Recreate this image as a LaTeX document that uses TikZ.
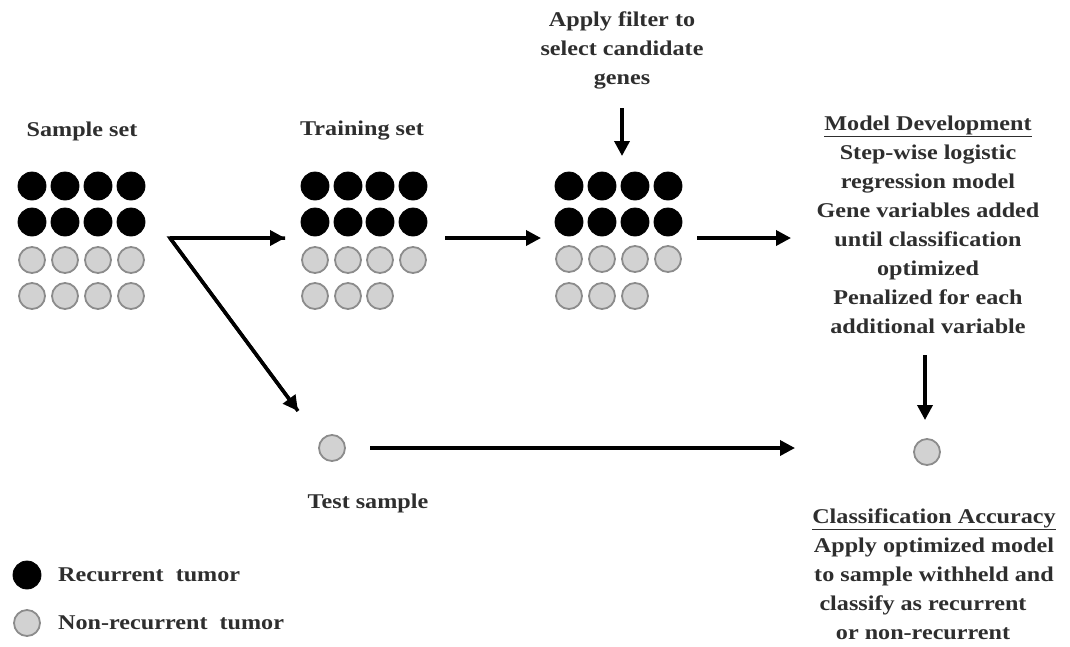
\documentclass[tikz,border=0pt]{standalone}
\usepackage{fontspec}
\setmainfont{Liberation Serif}
\newfontfamily\widefont[FakeStretch=1.15]{Liberation Serif}
\usetikzlibrary{arrows.meta}
\definecolor{txt}{HTML}{2E2E2E}
\definecolor{ringgray}{HTML}{8C8C8C}
\definecolor{fillgray}{HTML}{D2D2D2}
\tikzset{
  rec/.style={circle, fill=black, draw=black, line width=0.8pt, minimum size=28pt, inner sep=0pt},
  nonrec/.style={circle, fill=fillgray, draw=ringgray, line width=1.8pt, minimum size=26pt, inner sep=0pt},
  lbl/.style={font=\widefont\fontsize{21}{29}\selectfont\bfseries, text=txt, align=center, inner sep=0pt},
  flow/.style={line width=3.5pt, -{Triangle[length=15pt,width=15pt]}},
}
\begin{document}
\begin{tikzpicture}[x=1pt,y=-1pt]
\useasboundingbox (0,0) rectangle (1070,646);
% Sample set grid
\node[lbl] (samplelbl) at (82,131) {Sample set};
\foreach \c/\x in {1/32,2/65,3/98,4/131}{
  \node[rec] (sa1\c) at (\x,186) {};
  \node[rec] (sa2\c) at (\x,222) {};
  \node[nonrec] (sa3\c) at (\x,260) {};
  \node[nonrec] (sa4\c) at (\x,296) {};
}
% Training set grid
\node[lbl] (trainlbl) at (362,131) {Training set};
\foreach \c/\x in {1/315,2/348,3/380,4/413}{
  \node[rec] (tr1\c) at (\x,186) {};
  \node[rec] (tr2\c) at (\x,222) {};
  \node[nonrec] (tr3\c) at (\x,260) {};
}
\foreach \c/\x in {1/315,2/348,3/380}{
  \node[nonrec] (tr4\c) at (\x,296) {};
}
% Filtered grid
\node[lbl] (filterlbl) at (622,50) {Apply filter to\\select candidate\\genes};
\foreach \c/\x in {1/569,2/602,3/635,4/668}{
  \node[rec] (fi1\c) at (\x,186) {};
  \node[rec] (fi2\c) at (\x,222) {};
  \node[nonrec] (fi3\c) at (\x,259) {};
}
\foreach \c/\x in {1/569,2/602,3/635}{
  \node[nonrec] (fi4\c) at (\x,296) {};
}
% Model development
\node[lbl] (model) at (928,225) {\underline{Model Development}\\Step-wise logistic\\regression model\\Gene variables added\\until classification\\optimized\\Penalized for each\\additional variable};
% Test sample
\node[nonrec] (test) at (332,448) {};
\node[lbl] (testlbl) at (368,503) {Test sample};
% Classification
\node[nonrec] (cls) at (927,452) {};
\node[lbl] (clslbl) at (934,574) {\underline{Classification Accuracy}\\Apply optimized model\\to sample withheld and\\classify as recurrent\rule{22pt}{0pt}\\or non-recurrent\rule{22pt}{0pt}};
% Legend
\node[rec] (legrec) at (27,575) {};
\node[lbl, anchor=west] (legreclbl) at (58,575) {Recurrent\ \ tumor};
\node[nonrec] (legnon) at (27,623) {};
\node[lbl, anchor=west] (legnonlbl) at (58,623) {Non-recurrent\ \ tumor};
% connector coordinates
\coordinate (split) at (170,238);
\coordinate (trIn) at (285,238);
\coordinate (testIn) at (298,411);
\coordinate (trOut) at (445,238);
\coordinate (fiIn) at (541,238);
\coordinate (fiOut) at (697,238);
\coordinate (moIn) at (791,238);
\coordinate (filtTop) at (622,108);
\coordinate (filtBot) at (622,156);
\coordinate (moBot) at (925,355);
\coordinate (clsTop) at (925,420);
\coordinate (testOut) at (370,448);
\coordinate (clsIn) at (795,448);
% Connectors
\draw[line width=3.5pt, line join=miter] (trIn) -- (split) -- (testIn);
\draw[flow] (split) -- (trIn);
\draw[flow] (split) -- (testIn);
\draw[flow] (trOut) -- (fiIn);
\draw[flow] (fiOut) -- (moIn);
\draw[flow] (filtTop) -- (filtBot);
\draw[flow] (moBot) -- (clsTop);
\draw[flow] (testOut) -- (clsIn);
\end{tikzpicture}
\end{document}
